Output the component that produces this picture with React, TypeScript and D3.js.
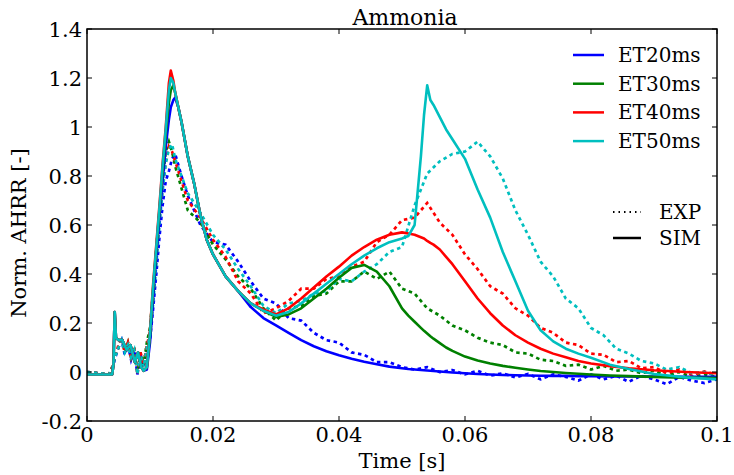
import React from "react";
import * as d3 from "d3";

const W = 734;
const H = 475;
const M = { left: 87, right: 717, top: 29, bottom: 421 };

const xTicks = [0, 0.02, 0.04, 0.06, 0.08, 0.1];
const xTickLabels = ["0", "0.02", "0.04", "0.06", "0.08", "0.1"];
const yTicks = [-0.2, 0, 0.2, 0.4, 0.6, 0.8, 1.0, 1.2, 1.4];
const yTickLabels = ["-0.2", "0", "0.2", "0.4", "0.6", "0.8", "1", "1.2", "1.4"];

const seriesNames = ["ET20ms", "ET30ms", "ET40ms", "ET50ms"];
const seriesColors = ["#0000ff", "#008000", "#ff0000", "#00bfbf"];

// Simulation time grid [s]
const simTime = [
  0, 0.004, 0.0042, 0.0044, 0.0046, 0.005, 0.0056, 0.0063, 0.0069, 0.0076,
  0.0081, 0.0086, 0.009, 0.0095, 0.01, 0.0105, 0.011, 0.0115, 0.012, 0.0125,
  0.013, 0.0133, 0.0137, 0.014, 0.0145, 0.015, 0.016, 0.017, 0.018, 0.019,
  0.02, 0.022, 0.024, 0.026, 0.028, 0.03, 0.032, 0.034, 0.036, 0.038,
  0.04, 0.042, 0.044, 0.046, 0.048, 0.05, 0.051, 0.052, 0.053, 0.0535,
  0.054, 0.0545, 0.055, 0.056, 0.057, 0.058, 0.06, 0.062, 0.064, 0.066,
  0.068, 0.07, 0.072, 0.074, 0.076, 0.078, 0.08, 0.083, 0.086, 0.09,
  0.095, 0.1,
];

const sim20 = [
  -0.01, -0.01, 0.03, 0.245, 0.14, 0.13, 0.13, 0.09, 0.11, 0.04,
  0.08, 0.02, 0.005, 0.01, 0.12, 0.3, 0.47, 0.63, 0.78, 0.92,
  1.03, 1.08, 1.11, 1.12, 1.08, 1.02, 0.88, 0.77, 0.64, 0.54,
  0.48, 0.39, 0.33, 0.265, 0.22, 0.19, 0.16, 0.13, 0.105, 0.085,
  0.068, 0.054, 0.042, 0.032, 0.022, 0.015, 0.012, 0.01, 0.008, 0.007,
  0.006, 0.005, 0.004, 0.002, 0.0, -0.002, -0.005, -0.008, -0.01, -0.012,
  -0.013, -0.014, -0.015, -0.016, -0.016, -0.017, -0.017, -0.018, -0.018, -0.019,
  -0.02, -0.02,
];

const sim30 = [
  -0.01, -0.01, 0.03, 0.245, 0.14, 0.13, 0.13, 0.09, 0.11, 0.04,
  0.08, 0.02, 0.005, 0.02, 0.15, 0.34, 0.5, 0.66, 0.82, 0.97,
  1.1, 1.15, 1.17, 1.14, 1.08, 1.02, 0.88, 0.77, 0.64, 0.54,
  0.48, 0.39, 0.33, 0.28, 0.25, 0.225, 0.235, 0.26, 0.3, 0.34,
  0.385, 0.425, 0.437, 0.41, 0.35, 0.26, 0.23, 0.205, 0.18, 0.168,
  0.157, 0.146, 0.136, 0.118, 0.1, 0.086, 0.063, 0.047, 0.035, 0.025,
  0.017, 0.01, 0.004, 0.0, -0.004, -0.007, -0.01, -0.014, -0.017, -0.02,
  -0.023, -0.025,
];

const sim40 = [
  -0.01, -0.01, 0.03, 0.245, 0.14, 0.13, 0.13, 0.09, 0.11, 0.04,
  0.08, 0.02, 0.005, 0.02, 0.17, 0.36, 0.52, 0.68, 0.85, 1.0,
  1.18, 1.23, 1.19, 1.14, 1.08, 1.02, 0.88, 0.77, 0.64, 0.54,
  0.48, 0.39, 0.33, 0.28, 0.255, 0.235, 0.26, 0.3, 0.345, 0.39,
  0.43, 0.475, 0.51, 0.54, 0.56, 0.57, 0.565, 0.56, 0.55, 0.545,
  0.535, 0.527, 0.52, 0.5, 0.47, 0.44, 0.37, 0.3, 0.24, 0.19,
  0.15, 0.12, 0.095, 0.075, 0.06, 0.045, 0.035, 0.024, 0.015, 0.007,
  0.0, -0.005,
];

const sim50 = [
  -0.01, -0.01, 0.03, 0.245, 0.14, 0.13, 0.13, 0.09, 0.11, 0.04,
  0.08, 0.02, 0.005, 0.02, 0.16, 0.35, 0.51, 0.67, 0.84, 0.99,
  1.15, 1.2, 1.18, 1.14, 1.08, 1.02, 0.88, 0.77, 0.64, 0.54,
  0.48, 0.39, 0.33, 0.28, 0.25, 0.23, 0.245, 0.28, 0.32, 0.36,
  0.4, 0.44, 0.475, 0.505, 0.53, 0.545, 0.555, 0.6, 0.88, 1.05,
  1.17, 1.11, 1.09, 1.04, 0.99, 0.95, 0.87, 0.745, 0.63, 0.49,
  0.37, 0.25, 0.17, 0.125, 0.095, 0.075, 0.058, 0.03, 0.012, -0.008,
  -0.022, -0.03,
];

// Experiment time grid [s]
const expTime = [
  0, 0.002, 0.0035, 0.004, 0.0045, 0.005, 0.0055, 0.006, 0.0065, 0.007,
  0.0075, 0.008, 0.0085, 0.009, 0.0095, 0.01, 0.0105, 0.011, 0.0115, 0.012,
  0.0125, 0.013, 0.0135, 0.014, 0.015, 0.016, 0.018, 0.02, 0.022, 0.024,
  0.026, 0.028, 0.03, 0.032, 0.034, 0.036, 0.038, 0.04, 0.042, 0.044,
  0.046, 0.048, 0.05, 0.052, 0.054, 0.056, 0.058, 0.06, 0.062, 0.064,
  0.066, 0.068, 0.07, 0.072, 0.074, 0.076, 0.078, 0.08, 0.082, 0.084,
  0.086, 0.088, 0.09, 0.092, 0.094, 0.096, 0.098, 0.1,
];

const exp20 = [
  0.0, -0.005, -0.01, 0.01, 0.06, 0.1, 0.13, 0.07, 0.11, 0.05,
  0.09, -0.01, 0.07, 0.02, 0.09, 0.13, 0.26, 0.4, 0.55, 0.68,
  0.78, 0.82, 0.87, 0.89, 0.8, 0.72, 0.6, 0.53, 0.52, 0.45,
  0.37, 0.3, 0.28, 0.22, 0.21, 0.16, 0.13, 0.12, 0.08, 0.07,
  0.04, 0.04, 0.02, 0.01, 0.02, 0.0, 0.008, -0.01, 0.005, -0.015,
  -0.005, -0.022, -0.008, -0.03, -0.01, -0.02, -0.035, -0.01, -0.03, -0.015,
  -0.04, -0.015, -0.03, -0.05, -0.02, -0.035, -0.045, -0.03,
];

const exp30 = [
  0.0, -0.005, -0.01, 0.02, 0.07, 0.1, 0.14, 0.08, 0.12, 0.06,
  0.1, 0.0, 0.08, 0.03, 0.12, 0.18, 0.33, 0.5, 0.65, 0.78,
  0.9, 0.94, 0.9, 0.84, 0.75, 0.66, 0.61, 0.52, 0.46, 0.39,
  0.34, 0.26, 0.21, 0.26, 0.27, 0.31, 0.32, 0.37, 0.37, 0.41,
  0.38, 0.41, 0.34, 0.32, 0.26, 0.23, 0.19, 0.17, 0.14, 0.12,
  0.11, 0.08, 0.075, 0.05, 0.045, 0.025, 0.03, 0.01, 0.025, 0.005,
  0.01, -0.005, 0.005, -0.015, 0.0, -0.02, -0.01, -0.02,
];

const exp40 = [
  0.0, -0.005, -0.01, 0.02, 0.07, 0.11, 0.14, 0.08, 0.12, 0.06,
  0.1, -0.01, 0.08, 0.03, 0.11, 0.16, 0.3, 0.46, 0.62, 0.75,
  0.86, 0.92, 0.9, 0.86, 0.78, 0.7, 0.63, 0.54, 0.47, 0.37,
  0.32, 0.24, 0.26, 0.29, 0.34, 0.34, 0.38, 0.39, 0.43, 0.45,
  0.53, 0.56, 0.62, 0.63, 0.69, 0.61, 0.56, 0.48, 0.42, 0.35,
  0.32, 0.26, 0.23, 0.18, 0.16, 0.12, 0.11, 0.075, 0.07, 0.04,
  0.045, 0.015, 0.02, -0.005, 0.01, -0.012, 0.002, -0.012,
];

const exp50 = [
  0.0, -0.005, -0.01, 0.015, 0.065, 0.1, 0.13, 0.08, 0.11, 0.06,
  0.09, -0.01, 0.07, 0.02, 0.1, 0.15, 0.28, 0.44, 0.6, 0.74,
  0.85, 0.91, 0.93, 0.87, 0.8, 0.73, 0.65, 0.56, 0.5, 0.42,
  0.35, 0.27, 0.24, 0.28, 0.29, 0.32, 0.33, 0.38, 0.37, 0.41,
  0.44, 0.49, 0.51, 0.68, 0.81, 0.86, 0.89, 0.9, 0.94, 0.88,
  0.79, 0.66, 0.56, 0.45, 0.39, 0.3, 0.26, 0.18, 0.15, 0.095,
  0.075, 0.045, 0.035, 0.01, 0.02, -0.005, 0.0, -0.015,
];

const simSeries = [sim20, sim30, sim40, sim50];
const expSeries = [exp20, exp30, exp40, exp50];

const textStyle: React.CSSProperties = { fontFamily: '"DejaVu Serif", serif' };

export default function App() {
  const x = d3.scaleLinear().domain([0, 0.1]).range([M.left, M.right]);
  const y = d3.scaleLinear().domain([-0.2, 1.4]).range([M.bottom, M.top]);

  const simLine = d3
    .line<number>()
    .x((_, i) => x(simTime[i]))
    .y((d) => y(d));
  const expLine = d3
    .line<number>()
    .x((_, i) => x(expTime[i]))
    .y((d) => y(d));

  const tickLen = 5;
  const legX0 = 573;
  const legX1 = 604;
  const legY0 = 55;
  const legDy = 28.7;

  return (
    <svg
      width={W}
      height={H}
      style={{ position: "absolute", left: 0, top: 0, background: "#fff", fontFamily: '"DejaVu Serif", serif' }}
    >
      <rect x={0} y={0} width={W} height={H} fill="#fff" />
      <defs>
        <clipPath id="plotClip">
          <rect x={M.left} y={M.top} width={M.right - M.left} height={M.bottom - M.top} />
        </clipPath>
      </defs>

      <g clipPath="url(#plotClip)">
        {expSeries.map((s, k) => (
          <path
            key={"e" + k}
            d={expLine(s) || ""}
            fill="none"
            stroke={seriesColors[k]}
            strokeWidth={2.7}
            strokeDasharray="3.5,3.5"
          />
        ))}
        {simSeries.map((s, k) => (
          <path
            key={"s" + k}
            d={simLine(s) || ""}
            fill="none"
            stroke={seriesColors[k]}
            strokeWidth={2.6}
            strokeLinejoin="round"
          />
        ))}
      </g>

      {/* frame */}
      <rect
        x={M.left}
        y={M.top}
        width={M.right - M.left}
        height={M.bottom - M.top}
        fill="none"
        stroke="#000"
        strokeWidth={1.5}
      />

      {/* x ticks */}
      {xTicks.map((t, i) => (
        <g key={"xt" + i}>
          <line x1={x(t)} x2={x(t)} y1={M.bottom} y2={M.bottom - tickLen} stroke="#000" strokeWidth={1} />
          <line x1={x(t)} x2={x(t)} y1={M.top} y2={M.top + tickLen} stroke="#000" strokeWidth={1} />
          <text x={x(t)} y={442} textAnchor="middle" fontSize={21} style={textStyle} fill="#000">
            {xTickLabels[i]}
          </text>
        </g>
      ))}

      {/* y ticks */}
      {yTicks.map((t, i) => (
        <g key={"yt" + i}>
          <line x1={M.left} x2={M.left + tickLen} y1={y(t)} y2={y(t)} stroke="#000" strokeWidth={1} />
          <line x1={M.right} x2={M.right - tickLen} y1={y(t)} y2={y(t)} stroke="#000" strokeWidth={1} />
          <text x={82} y={y(t) + 7.5} textAnchor="end" fontSize={21} style={textStyle} fill="#000">
            {yTickLabels[i]}
          </text>
        </g>
      ))}

      {/* title & axis labels */}
      <text x={(M.left + M.right) / 2 + 3} y={25} textAnchor="middle" fontSize={22} style={textStyle} fill="#000">
        Ammonia
      </text>
      <text x={(M.left + M.right) / 2} y={468} textAnchor="middle" fontSize={21} style={textStyle} fill="#000">
        Time [s]
      </text>
      <text
        transform={`translate(26, ${(M.top + M.bottom) / 2 + 8}) rotate(-90)`}
        textAnchor="middle"
        fontSize={21}
        style={textStyle}
        fill="#000"
      >
        Norm. AHRR [-]
      </text>

      {/* legend */}
      {seriesNames.map((n, k) => (
        <g key={"lg" + k}>
          <line
            x1={legX0}
            x2={legX1}
            y1={legY0 + k * legDy}
            y2={legY0 + k * legDy}
            stroke={seriesColors[k]}
            strokeWidth={2.5}
          />
          <text x={618} y={legY0 + k * legDy + 7} fontSize={20} style={textStyle} fill="#000">
            {n}
          </text>
        </g>
      ))}
      <line x1={613} x2={641} y1={212} y2={212} stroke="#000" strokeWidth={2} strokeDasharray="1.5,4" />
      <text x={659} y={219} fontSize={20} style={textStyle} fill="#000">
        EXP
      </text>
      <line x1={613} x2={641} y1={238} y2={238} stroke="#000" strokeWidth={2.5} />
      <text x={659} y={245} fontSize={20} style={textStyle} fill="#000">
        SIM
      </text>
    </svg>
  );
}
